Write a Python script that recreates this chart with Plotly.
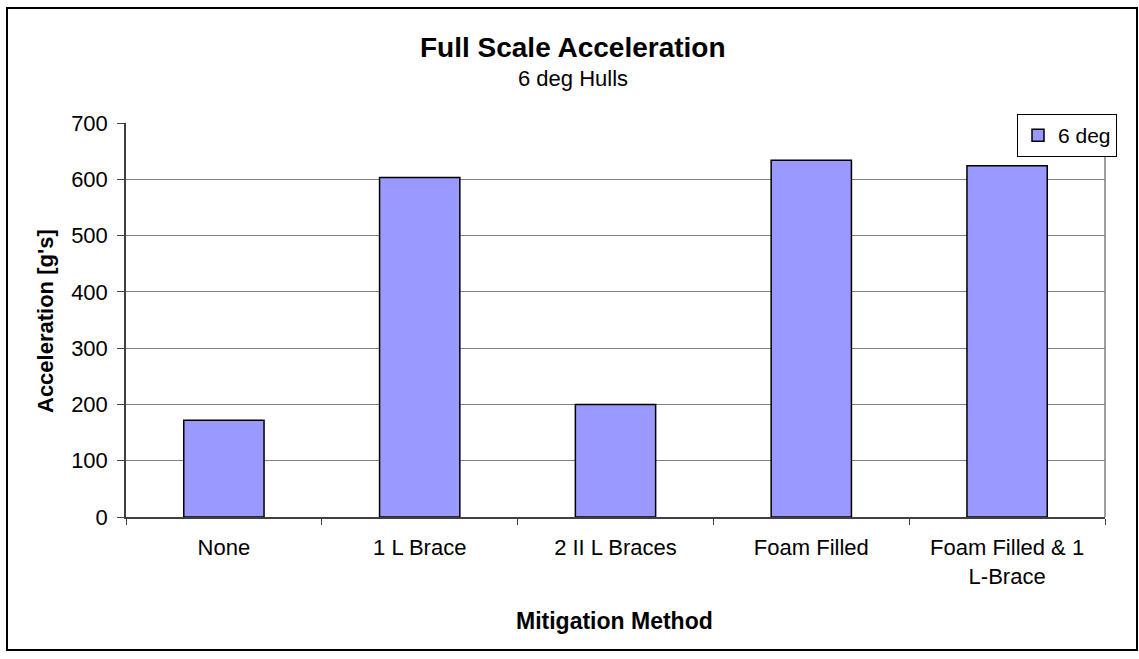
import plotly.graph_objects as go

# data
methods = ["None", "1 L Brace", "2 II L Braces", "Foam Filled", "Foam Filled & 1<br>L-Brace"]
accel_6deg = [172, 603, 200, 634, 624]

FONT = "Liberation Sans, Arial, sans-serif"

fig = go.Figure()
fig.add_trace(
    go.Bar(
        x=methods,
        y=accel_6deg,
        name="6 deg",
        marker=dict(color="#9999FF", line=dict(color="#000000", width=1.5)),
    )
)

# plot area edges in pixels: x 126..1105, y 123..517
pw, ph = 979, 394


def px_x(p):
    return (p - 126) / pw


def px_y(p):
    return (517 - p) / ph


fig.update_layout(
    width=1139,
    height=659,
    margin=dict(l=126, r=34, t=123, b=142),
    paper_bgcolor="white",
    plot_bgcolor="white",
    font=dict(family=FONT, size=22, color="#000000"),
    bargap=0.59,
    showlegend=True,
    legend=dict(
        x=px_x(1117),
        y=px_y(114),
        xanchor="right",
        yanchor="top",
        bordercolor="#000000",
        borderwidth=1,
        bgcolor="white",
        font=dict(size=21),
        itemwidth=30,
    ),
    annotations=[
        dict(
            text="<b>Full Scale Acceleration</b>",
            x=px_x(573), y=px_y(47), xref="paper", yref="paper",
            showarrow=False, font=dict(size=28), xanchor="center", yanchor="middle",
        ),
        dict(
            text="6 deg Hulls",
            x=px_x(573), y=px_y(78), xref="paper", yref="paper",
            showarrow=False, font=dict(size=22), xanchor="center", yanchor="middle",
        ),
        dict(
            text="<b>Mitigation Method</b>",
            x=px_x(614), y=px_y(621), xref="paper", yref="paper",
            showarrow=False, font=dict(size=23), xanchor="center", yanchor="middle",
        ),
        dict(
            text="<b>Acceleration [g's]</b>",
            x=px_x(45), y=px_y(321), xref="paper", yref="paper", textangle=-90,
            showarrow=False, font=dict(size=22), xanchor="center", yanchor="middle",
        ),
    ],
    shapes=[
        dict(
            type="rect", xref="paper", yref="paper",
            x0=px_x(7), x1=px_x(1137), y0=px_y(650), y1=px_y(8),
            line=dict(color="#000000", width=2), layer="below",
        ),
        dict(
            type="line", xref="paper", yref="paper",
            x0=1, x1=1, y0=0, y1=1,
            line=dict(color="#808080", width=1.5),
        ),
    ],
)

fig.update_xaxes(
    showline=True,
    linecolor="#404040",
    linewidth=1.5,
    ticks="outside",
    tickson="boundaries",
    ticklen=6,
    tickcolor="#404040",
    tickfont=dict(size=22),
    ticklabelstandoff=10,
    showgrid=False,
)

fig.update_yaxes(
    range=[0, 700],
    tickvals=[0, 100, 200, 300, 400, 500, 600, 700],
    showline=True,
    linecolor="#404040",
    linewidth=1.5,
    ticks="outside",
    ticklen=7,
    tickcolor="#404040",
    tickfont=dict(size=22),
    ticklabelstandoff=5,
    showgrid=True,
    gridcolor="#808080",
    gridwidth=1.2,
    zeroline=False,
)

# drop the default 8px body margin so the figure fills the window exactly
fig.write_html(
    "out.html",
    config={"displayModeBar": False},
    post_script="document.body.style.margin='0';document.body.style.overflow='hidden';",
)
